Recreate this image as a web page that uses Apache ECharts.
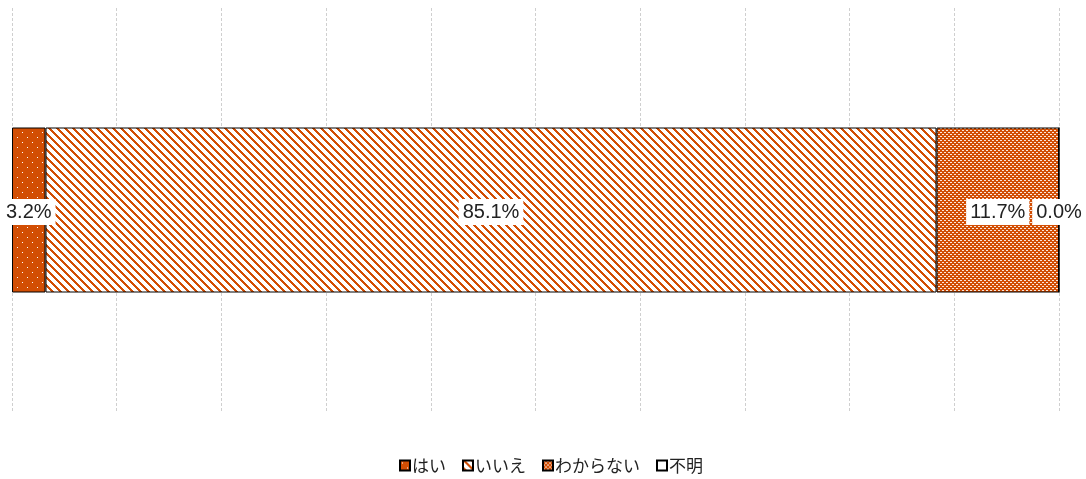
<!DOCTYPE html>
<html><head><meta charset="utf-8">
<script src="https://cdn.jsdelivr.net/npm/echarts@6/dist/echarts.min.js"></script>
<style>html,body{margin:0;padding:0;background:#fff}#c{width:1086px;height:479px}</style>
</head><body><div id="c"></div>
<script>
const categories = ['回答'];
const seriesNames = ['はい', 'いいえ', 'わからない', '不明'];
const valHai = [3.2];
const valIie = [85.1];
const valWakaranai = [11.7];
const valFumei = [0.0];
const xTicks = [0, 10, 20, 30, 40, 50, 60, 70, 80, 90, 100];

const ORANGE = '#D24E04';
function tile(w, h, draw) {
  const c = document.createElement('canvas'); c.width = w; c.height = h;
  const g = c.getContext('2d'); g.imageSmoothingEnabled = false; draw(g, w, h); return c;
}
const patDots = tile(10, 10, (g, w, h) => {
  g.fillStyle = ORANGE; g.fillRect(0, 0, w, h);
  g.fillStyle = '#fff'; g.fillRect(2, 2, 1, 1); g.fillRect(7, 7, 1, 1);
});
const patStripe = tile(8, 8, (g, w, h) => {
  g.fillStyle = '#fff'; g.fillRect(0, 0, w, h);
  g.fillStyle = ORANGE;
  for (let y = 0; y < h; y++) {
    for (let t = 0; t < 3; t++) {
      g.fillRect((y + t) % w, y, 1, 1);
    }
  }
});
const patFine = tile(4, 4, (g, w, h) => {
  g.fillStyle = ORANGE; g.fillRect(0, 0, w, h);
  g.fillStyle = '#fbe6da'; g.fillRect(0, 0, 2, 1); g.fillRect(2, 2, 2, 1);
});
const fills = [
  { image: patDots, repeat: 'repeat' },
  { image: patStripe, repeat: 'repeat' },
  { image: patFine, repeat: 'repeat' },
  '#ffffff'
];
const values = [valHai, valIie, valWakaranai, valFumei];

const chart = echarts.init(document.getElementById('c'), null, { renderer: 'canvas' });
chart.setOption({
  animation: false,
  textStyle: { fontFamily: '"Liberation Sans", Arial, "Noto Sans CJK JP", sans-serif' },
  grid: { left: 12, right: 27, top: 8, bottom: 67 },
  xAxis: {
    type: 'value', min: xTicks[0], max: xTicks[xTicks.length - 1], interval: xTicks[1] - xTicks[0],
    axisLabel: { show: false }, axisLine: { show: false }, axisTick: { show: false },
    splitLine: { show: true, lineStyle: { color: '#cfcfcf', type: [3, 2], width: 1 } }
  },
  yAxis: {
    type: 'category', data: categories, show: false
  },
  legend: {
    bottom: 0, left: 394, itemWidth: 10, itemHeight: 10, itemGap: 16,
    icon: 'rect',
    textStyle: { fontSize: 17, color: '#222', fontFamily: '"Noto Sans CJK JP", sans-serif', padding: [0, 0, 0, -3] },
    data: seriesNames
  },
  series: seriesNames.map((n, i) => ({
    name: n, type: 'bar', stack: 'total', data: values[i], barWidth: 165,
    itemStyle: { color: fills[i], borderColor: '#000', borderWidth: 1 },
    label: {
      show: true, position: 'inside', formatter: p => p.value.toFixed(1) + '%',
      color: '#222', fontSize: 20, backgroundColor: '#fff', padding: [4, 4, 2, 4], offset: [0, 2],
      fontFamily: '"Liberation Sans", Arial, sans-serif'
    }
  }))
});
</script></body></html>
